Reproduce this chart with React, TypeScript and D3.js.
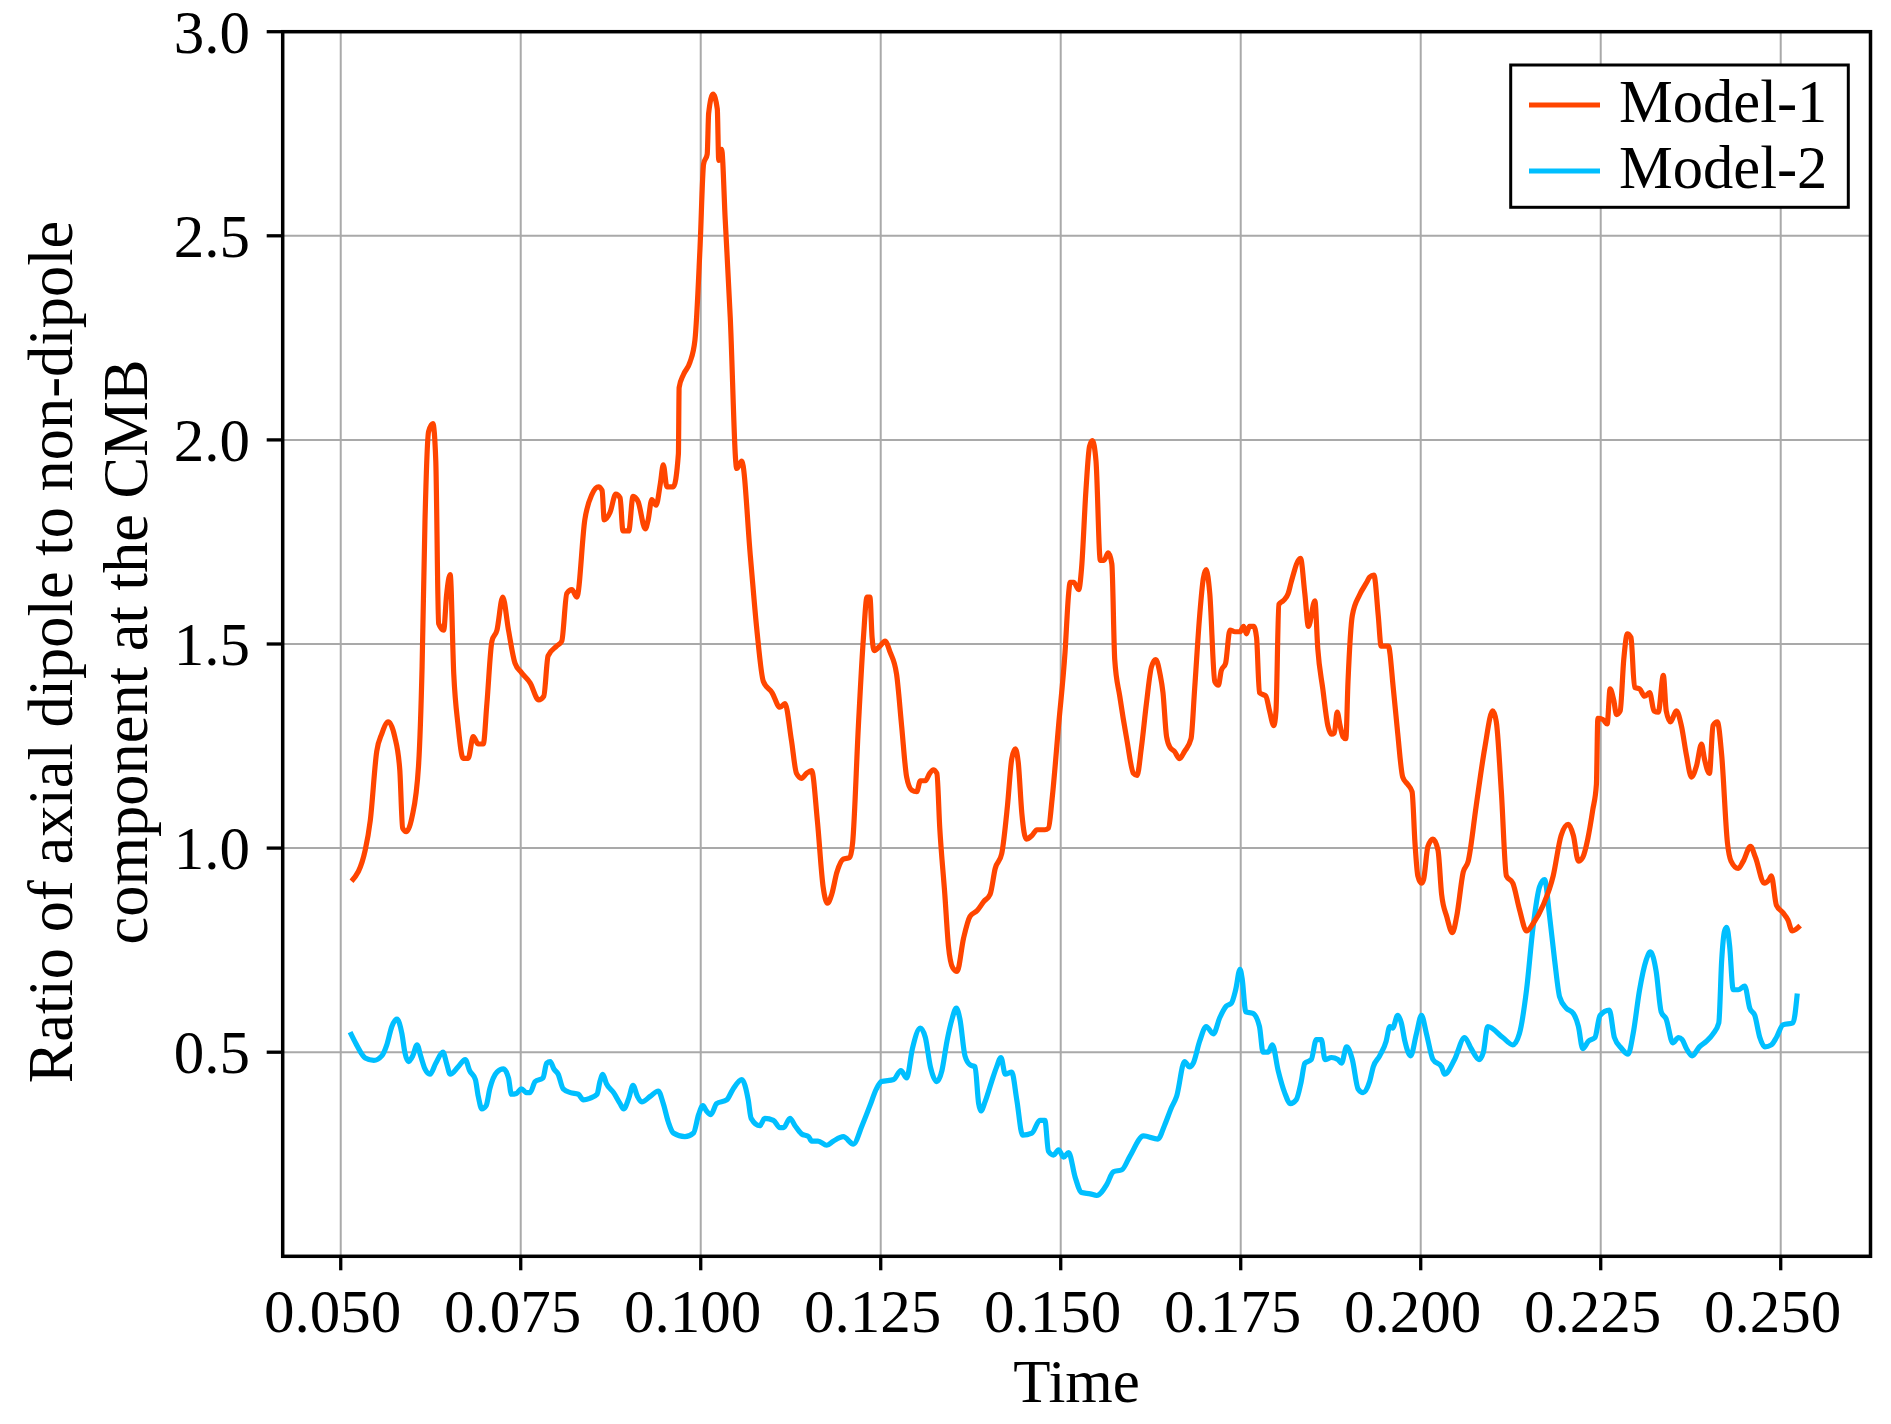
import React from "react";
import * as d3 from "d3";

const time1 = [
  0.0515, 0.0534, 0.0541, 0.055, 0.0557, 0.0566, 0.0575, 0.0582, 0.0586, 0.0591, 0.0599, 0.0608, 0.0613, 0.0617,
  0.0622, 0.0628, 0.0632, 0.0636, 0.0643, 0.0647, 0.0652, 0.0657, 0.0663, 0.067, 0.0677, 0.0684, 0.0691, 0.0698,
  0.0703, 0.071, 0.0717, 0.0725, 0.0733, 0.0742, 0.0751, 0.0763, 0.0775, 0.0782, 0.0788, 0.08, 0.0807, 0.0814,
  0.0821, 0.0828, 0.0839, 0.0849, 0.0858, 0.0863, 0.0866, 0.0874, 0.0882, 0.0888, 0.0892, 0.09, 0.0906, 0.0913,
  0.0923, 0.0927, 0.0932, 0.0938, 0.0944, 0.0948, 0.0953, 0.0962, 0.0969, 0.097, 0.0976, 0.0985, 0.0992, 0.0999,
  0.1004, 0.1009, 0.1011, 0.1017, 0.1023, 0.1025, 0.1029, 0.1034, 0.1041, 0.105, 0.1057, 0.1069, 0.1078, 0.1087,
  0.1099, 0.111, 0.1117, 0.1126, 0.1133, 0.114, 0.1147, 0.1154, 0.1162, 0.117, 0.1176, 0.1182, 0.1189, 0.1198,
  0.1207, 0.1211, 0.1219, 0.1226, 0.1231, 0.1235, 0.1238, 0.1241, 0.1249, 0.1256, 0.1263, 0.1272, 0.1279, 0.1286,
  0.1293, 0.13, 0.1305, 0.1312, 0.1318, 0.1323, 0.1328, 0.1332, 0.1339, 0.1344, 0.135, 0.1356, 0.1365, 0.1374,
  0.1384, 0.1393, 0.1402, 0.1409, 0.1418, 0.1426, 0.1432, 0.1437, 0.1441, 0.1446, 0.1452, 0.146, 0.1467, 0.1478,
  0.1483, 0.1488, 0.1497, 0.1506, 0.1511, 0.1513, 0.1518, 0.1525, 0.1529, 0.1535, 0.154, 0.1544, 0.1549, 0.1555,
  0.156, 0.1566, 0.1571, 0.1575, 0.1582, 0.1592, 0.1601, 0.1606, 0.1612, 0.1619, 0.1626, 0.1632, 0.1638, 0.1642,
  0.1647, 0.1652, 0.1658, 0.1665, 0.1672, 0.1681, 0.1686, 0.1693, 0.1698, 0.1702, 0.1707, 0.1714, 0.1719, 0.1723,
  0.1729, 0.1735, 0.1742, 0.1749, 0.1754, 0.1758, 0.1762, 0.1768, 0.1772, 0.1776, 0.1781, 0.1785, 0.179, 0.1796,
  0.1799, 0.1803, 0.1809, 0.1816, 0.182, 0.1833, 0.1839, 0.1844, 0.1853, 0.1857, 0.1864, 0.1871, 0.1876, 0.188,
  0.1884, 0.1888, 0.1892, 0.1896, 0.1899, 0.1905, 0.1915, 0.1925, 0.1929, 0.1935, 0.1941, 0.1945, 0.1955, 0.1962,
  0.1968, 0.1975, 0.1982, 0.1988, 0.1992, 0.1996, 0.2001, 0.2004, 0.201, 0.2017, 0.2024, 0.2029, 0.2036, 0.2044,
  0.205, 0.2059, 0.2066, 0.2077, 0.2089, 0.21, 0.2105, 0.2112, 0.2119, 0.2128, 0.2137, 0.2147, 0.2156, 0.217,
  0.2184, 0.2195, 0.2205, 0.2212, 0.2219, 0.2225, 0.2232, 0.2239, 0.2244, 0.2246, 0.2253, 0.2259, 0.2263, 0.2268,
  0.2272, 0.2277, 0.2282, 0.2287, 0.2292, 0.2297, 0.2304, 0.2311, 0.2318, 0.2324, 0.233, 0.2337, 0.2341, 0.2347,
  0.2355, 0.2362, 0.2369, 0.2376, 0.2383, 0.239, 0.2394, 0.2401, 0.2406, 0.2412, 0.2418, 0.2426, 0.2431, 0.2441,
  0.2448, 0.2458, 0.2465, 0.2477, 0.2484, 0.2487, 0.2494, 0.2503, 0.251, 0.2516, 0.2521, 0.2527,
];
const model1 = [
  0.919, 0.995, 1.067, 1.237, 1.28, 1.309, 1.273, 1.192, 1.049, 1.04, 1.076, 1.2, 1.444, 1.8,
  2.02, 2.04, 1.95, 1.55, 1.534, 1.62, 1.67, 1.426, 1.3, 1.22, 1.22, 1.273, 1.255, 1.255,
  1.354, 1.507, 1.534, 1.615, 1.534, 1.453, 1.43, 1.405, 1.363, 1.372, 1.471, 1.495, 1.507, 1.624,
  1.633, 1.615, 1.804, 1.867, 1.885, 1.876, 1.804, 1.822, 1.867, 1.858, 1.777, 1.777, 1.862, 1.849,
  1.782, 1.804, 1.854, 1.84, 1.894, 1.939, 1.885, 1.885, 1.966, 2.128, 2.16, 2.19, 2.245, 2.47,
  2.676, 2.7, 2.8, 2.847, 2.811, 2.685, 2.712, 2.54, 2.3, 1.93, 1.948, 1.714, 1.534, 1.408,
  1.381, 1.345, 1.354, 1.264, 1.183, 1.171, 1.183, 1.19, 1.067, 0.905, 0.865, 0.887, 0.94, 0.973,
  0.977, 1.013, 1.3, 1.516, 1.615, 1.615, 1.516, 1.484, 1.495, 1.507, 1.48, 1.426, 1.3, 1.174,
  1.142, 1.138, 1.165, 1.165, 1.183, 1.192, 1.183, 1.049, 0.887, 0.761, 0.707, 0.698, 0.779, 0.833,
  0.847, 0.869, 0.887, 0.95, 0.986, 1.103, 1.219, 1.243, 1.21, 1.085, 1.022, 1.031, 1.045, 1.045,
  1.049, 1.12, 1.3, 1.48, 1.624, 1.651, 1.651, 1.633, 1.687, 1.876, 1.984, 1.998, 1.948, 1.705,
  1.705, 1.723, 1.696, 1.462, 1.372, 1.264, 1.183, 1.178, 1.246, 1.354, 1.444, 1.462, 1.426, 1.381,
  1.273, 1.246, 1.237, 1.219, 1.237, 1.268, 1.39, 1.57, 1.66, 1.682, 1.624, 1.408, 1.399, 1.435,
  1.453, 1.534, 1.53, 1.53, 1.543, 1.525, 1.543, 1.543, 1.516, 1.381, 1.376, 1.372, 1.336, 1.3,
  1.336, 1.597, 1.606, 1.624, 1.651, 1.71, 1.624, 1.543, 1.606, 1.489, 1.39, 1.3, 1.279, 1.282,
  1.333, 1.3, 1.273, 1.268, 1.408, 1.57, 1.62, 1.651, 1.664, 1.669, 1.57, 1.495, 1.495, 1.39,
  1.282, 1.174, 1.156, 1.138, 1.013, 0.932, 0.914, 0.923, 1.004, 1.022, 0.995, 0.887, 0.833, 0.793,
  0.833, 0.941, 0.968, 1.103, 1.246, 1.336, 1.309, 1.138, 0.932, 0.914, 0.851, 0.797, 0.815, 0.86,
  0.932, 1.031, 1.058, 1.031, 0.968, 0.977, 1.022, 1.094, 1.156, 1.318, 1.315, 1.304, 1.39, 1.363,
  1.327, 1.336, 1.462, 1.525, 1.516, 1.394, 1.39, 1.372, 1.381, 1.336, 1.333, 1.423, 1.336, 1.309,
  1.336, 1.3, 1.228, 1.174, 1.201, 1.255, 1.219, 1.183, 1.3, 1.309, 1.228, 1.013, 0.968, 0.95,
  0.968, 1.004, 0.977, 0.914, 0.923, 0.932, 0.86, 0.842, 0.824, 0.797, 0.801, 0.81,
];

const time2 = [
  0.0513, 0.0522, 0.0534, 0.0546, 0.0557, 0.0564, 0.0571, 0.0578, 0.0585, 0.0589, 0.0594, 0.06, 0.0606, 0.0611,
  0.0617, 0.0624, 0.0632, 0.0642, 0.0647, 0.0652, 0.0663, 0.0673, 0.0679, 0.0687, 0.0691, 0.0696, 0.0702, 0.0707,
  0.0717, 0.0726, 0.0733, 0.0737, 0.0744, 0.0751, 0.0758, 0.0763, 0.077, 0.0781, 0.0786, 0.0791, 0.0796, 0.0802,
  0.0809, 0.0819, 0.083, 0.0837, 0.0846, 0.0856, 0.086, 0.0864, 0.0869, 0.0879, 0.0888, 0.0893, 0.09, 0.0906,
  0.0912, 0.0918, 0.093, 0.0941, 0.0948, 0.0955, 0.0962, 0.0978, 0.099, 0.0997, 0.1003, 0.1008, 0.1014, 0.1022,
  0.1036, 0.1045, 0.1057, 0.1066, 0.107, 0.1082, 0.1089, 0.1101, 0.111, 0.1115, 0.1124, 0.1131, 0.114, 0.115,
  0.1154, 0.1163, 0.1175, 0.1184, 0.1198, 0.1212, 0.1224, 0.1235, 0.1244, 0.1251, 0.1268, 0.1278, 0.1286, 0.1294,
  0.1305, 0.1312, 0.1319, 0.1328, 0.1335, 0.1342, 0.1349, 0.1355, 0.136, 0.1367, 0.1374, 0.1381, 0.1386, 0.1389,
  0.1395, 0.1404, 0.1411, 0.1417, 0.1423, 0.1432, 0.1439, 0.1447, 0.146, 0.1471, 0.1478, 0.1483, 0.149, 0.1497,
  0.1504, 0.1511, 0.152, 0.1529, 0.1541, 0.155, 0.1564, 0.1573, 0.1585, 0.1596, 0.1615, 0.1635, 0.1644, 0.1654,
  0.1661, 0.1672, 0.1679, 0.1684, 0.1693, 0.1702, 0.1712, 0.1721, 0.173, 0.1737, 0.1743, 0.1749, 0.1752, 0.1757,
  0.1767, 0.1776, 0.1781, 0.1788, 0.1794, 0.1802, 0.1811, 0.1819, 0.1827, 0.1834, 0.1839, 0.1848, 0.1855, 0.1862,
  0.1867, 0.1876, 0.1885, 0.189, 0.1897, 0.1905, 0.1913, 0.192, 0.1929, 0.1934, 0.1943, 0.1952, 0.1957, 0.1961,
  0.1968, 0.1973, 0.1978, 0.1986, 0.1994, 0.2001, 0.2008, 0.2017, 0.2029, 0.2033, 0.2047, 0.2061, 0.207, 0.2081,
  0.2087, 0.2093, 0.2114, 0.2128, 0.2137, 0.2147, 0.2156, 0.2165, 0.2172, 0.2179, 0.2186, 0.2193, 0.2202, 0.2212,
  0.2219, 0.2225, 0.2233, 0.2242, 0.2249, 0.2262, 0.2269, 0.2279, 0.2288, 0.2295, 0.2304, 0.2313, 0.2319, 0.2327,
  0.2334, 0.2341, 0.235, 0.2358, 0.2363, 0.2369, 0.2377, 0.2387, 0.2397, 0.2406, 0.2414, 0.2418, 0.2422, 0.2425,
  0.2429, 0.2434, 0.2441, 0.245, 0.2457, 0.2464, 0.2471, 0.2478, 0.2487, 0.2494, 0.2503, 0.2517, 0.2523,
];
const model2 = [
  0.549, 0.518, 0.486, 0.48, 0.491, 0.518, 0.563, 0.581, 0.545, 0.5, 0.477, 0.491, 0.518, 0.491,
  0.459, 0.446, 0.473, 0.5, 0.473, 0.446, 0.464, 0.482, 0.455, 0.433, 0.392, 0.361, 0.369, 0.41,
  0.451, 0.459, 0.437, 0.397, 0.399, 0.41, 0.401, 0.401, 0.428, 0.437, 0.473, 0.477, 0.459, 0.446,
  0.41, 0.401, 0.397, 0.383, 0.387, 0.397, 0.428, 0.446, 0.423, 0.401, 0.374, 0.361, 0.387, 0.419,
  0.392, 0.378, 0.392, 0.405, 0.374, 0.329, 0.302, 0.293, 0.302, 0.347, 0.369, 0.356, 0.347, 0.374,
  0.383, 0.41, 0.433, 0.383, 0.338, 0.32, 0.338, 0.333, 0.315, 0.315, 0.338, 0.32, 0.3, 0.293,
  0.282, 0.282, 0.272, 0.282, 0.293, 0.275, 0.32, 0.369, 0.41, 0.428, 0.433, 0.455, 0.437, 0.509,
  0.559, 0.536, 0.464, 0.428, 0.455, 0.527, 0.581, 0.608, 0.581, 0.491, 0.469, 0.464, 0.374, 0.356,
  0.379, 0.428, 0.464, 0.487, 0.446, 0.451, 0.383, 0.297, 0.302, 0.333, 0.333, 0.257, 0.248, 0.261,
  0.243, 0.254, 0.194, 0.156, 0.153, 0.149, 0.176, 0.207, 0.212, 0.245, 0.295, 0.287, 0.32, 0.365,
  0.392, 0.477, 0.464, 0.473, 0.527, 0.563, 0.545, 0.585, 0.613, 0.62, 0.653, 0.703, 0.68, 0.599,
  0.595, 0.563, 0.5, 0.5, 0.518, 0.455, 0.401, 0.374, 0.383, 0.428, 0.473, 0.482, 0.531, 0.531,
  0.482, 0.487, 0.482, 0.473, 0.513, 0.482, 0.41, 0.401, 0.428, 0.464, 0.491, 0.527, 0.563, 0.559,
  0.59, 0.572, 0.527, 0.491, 0.545, 0.59, 0.545, 0.482, 0.464, 0.446, 0.482, 0.536, 0.509, 0.482,
  0.5, 0.563, 0.536, 0.518, 0.545, 0.653, 0.806, 0.905, 0.923, 0.833, 0.725, 0.635, 0.608, 0.595,
  0.563, 0.509, 0.527, 0.536, 0.59, 0.603, 0.536, 0.509, 0.495, 0.545, 0.653, 0.725, 0.746, 0.698,
  0.599, 0.581, 0.523, 0.536, 0.531, 0.509, 0.491, 0.513, 0.527, 0.545, 0.572, 0.725, 0.797, 0.806,
  0.761, 0.653, 0.653, 0.662, 0.608, 0.59, 0.536, 0.513, 0.518, 0.536, 0.567, 0.572, 0.644,
];

const xTicks = [0.05, 0.075, 0.1, 0.125, 0.15, 0.175, 0.2, 0.225, 0.25];
const yTicks = [0.5, 1.0, 1.5, 2.0, 2.5, 3.0];
const seriesNames = ["Model-1", "Model-2"];
const seriesColors = ["#ff4500", "#00bfff"];
const xLabel = "Time";
const yLabelLines = ["Ratio of axial dipole to non-dipole", "component at the CMB"];

const W = 1891;
const H = 1424;
const L = 282.7;
const R = 1870.5;
const T = 31.7;
const B = 1256.3;
const FONT = "'Liberation Serif', 'Times New Roman', Times, serif";
const FS = 61;

export default function App() {
  const x = d3.scaleLinear().domain([0.04194, 0.26247]).range([L, R]);
  const y = d3.scaleLinear().domain([0, 3.0]).range([B, T]);

  const s1 = time1.map((t, i) => [t, model1[i]] as [number, number]);
  const s2 = time2.map((t, i) => [t, model2[i]] as [number, number]);
  const line = d3
    .line<[number, number]>()
    .x((d) => x(d[0]))
    .y((d) => y(d[1]))
    .curve(d3.curveMonotoneX);

  const fx = d3.format(".3f");
  const fy = d3.format(".1f");
  const cyLabel = 652;
  const cx = (L + R) / 2;

  return (
    <svg
      width={W}
      height={H}
      viewBox={`0 0 ${W} ${H}`}
      style={{ position: "absolute", left: 0, top: 0, background: "#fff" }}
      fontFamily={FONT}
    >
      <rect x={0} y={0} width={W} height={H} fill="#fff" />
      {/* grid */}
      <g stroke="#a9a9a9" strokeWidth={2}>
        {xTicks.map((t) => (
          <line key={"gx" + t} x1={x(t)} x2={x(t)} y1={T} y2={B} />
        ))}
        {yTicks.map((v) => (
          <line key={"gy" + v} x1={L} x2={R} y1={y(v)} y2={y(v)} />
        ))}
      </g>
      {/* series */}
      <path d={line(s2) || ""} fill="none" stroke={seriesColors[1]} strokeWidth={5.2} strokeLinejoin="round" />
      <path d={line(s1) || ""} fill="none" stroke={seriesColors[0]} strokeWidth={5.2} strokeLinejoin="round" />
      {/* frame */}
      <rect x={L} y={T} width={R - L} height={B - T} fill="none" stroke="#000" strokeWidth={3.5} />
      {/* x ticks */}
      <g>
        {xTicks.map((t) => (
          <g key={"xt" + t}>
            <line x1={x(t)} x2={x(t)} y1={B} y2={B + 14} stroke="#000" strokeWidth={3.3} />
            <text x={x(t) - 8} y={1331.7} fontSize={FS} textAnchor="middle" fill="#000">
              {fx(t)}
            </text>
          </g>
        ))}
      </g>
      {/* y ticks */}
      <g>
        {yTicks.map((v) => (
          <g key={"yt" + v}>
            <line x1={L - 16} x2={L} y1={y(v)} y2={y(v)} stroke="#000" strokeWidth={3.3} />
            <text x={250} y={y(v) + 21} fontSize={FS} textAnchor="end" fill="#000">
              {fy(v)}
            </text>
          </g>
        ))}
      </g>
      {/* axis labels */}
      <text x={cx} y={1401.7} fontSize={FS} textAnchor="middle" fill="#000">
        {xLabel}
      </text>
      <text transform={`translate(72,${cyLabel}) rotate(-90)`} fontSize={62.5} textAnchor="middle" fill="#000">
        {yLabelLines[0]}
      </text>
      <text transform={`translate(147,${cyLabel}) rotate(-90)`} fontSize={62.5} textAnchor="middle" fill="#000">
        {yLabelLines[1]}
      </text>
      {/* legend */}
      <g>
        <rect x={1510.7} y={65} width={337.6} height={142.3} fill="#fff" stroke="#000" strokeWidth={3} />
        {seriesNames.map((name, i) => (
          <g key={name}>
            <line
              x1={1529}
              x2={1600}
              y1={105 + i * 66}
              y2={105 + i * 66}
              stroke={seriesColors[i]}
              strokeWidth={5}
            />
            <text x={1619} y={121.7 + i * 66.3} fontSize={60.5} fill="#000">
              {name}
            </text>
          </g>
        ))}
      </g>
    </svg>
  );
}
